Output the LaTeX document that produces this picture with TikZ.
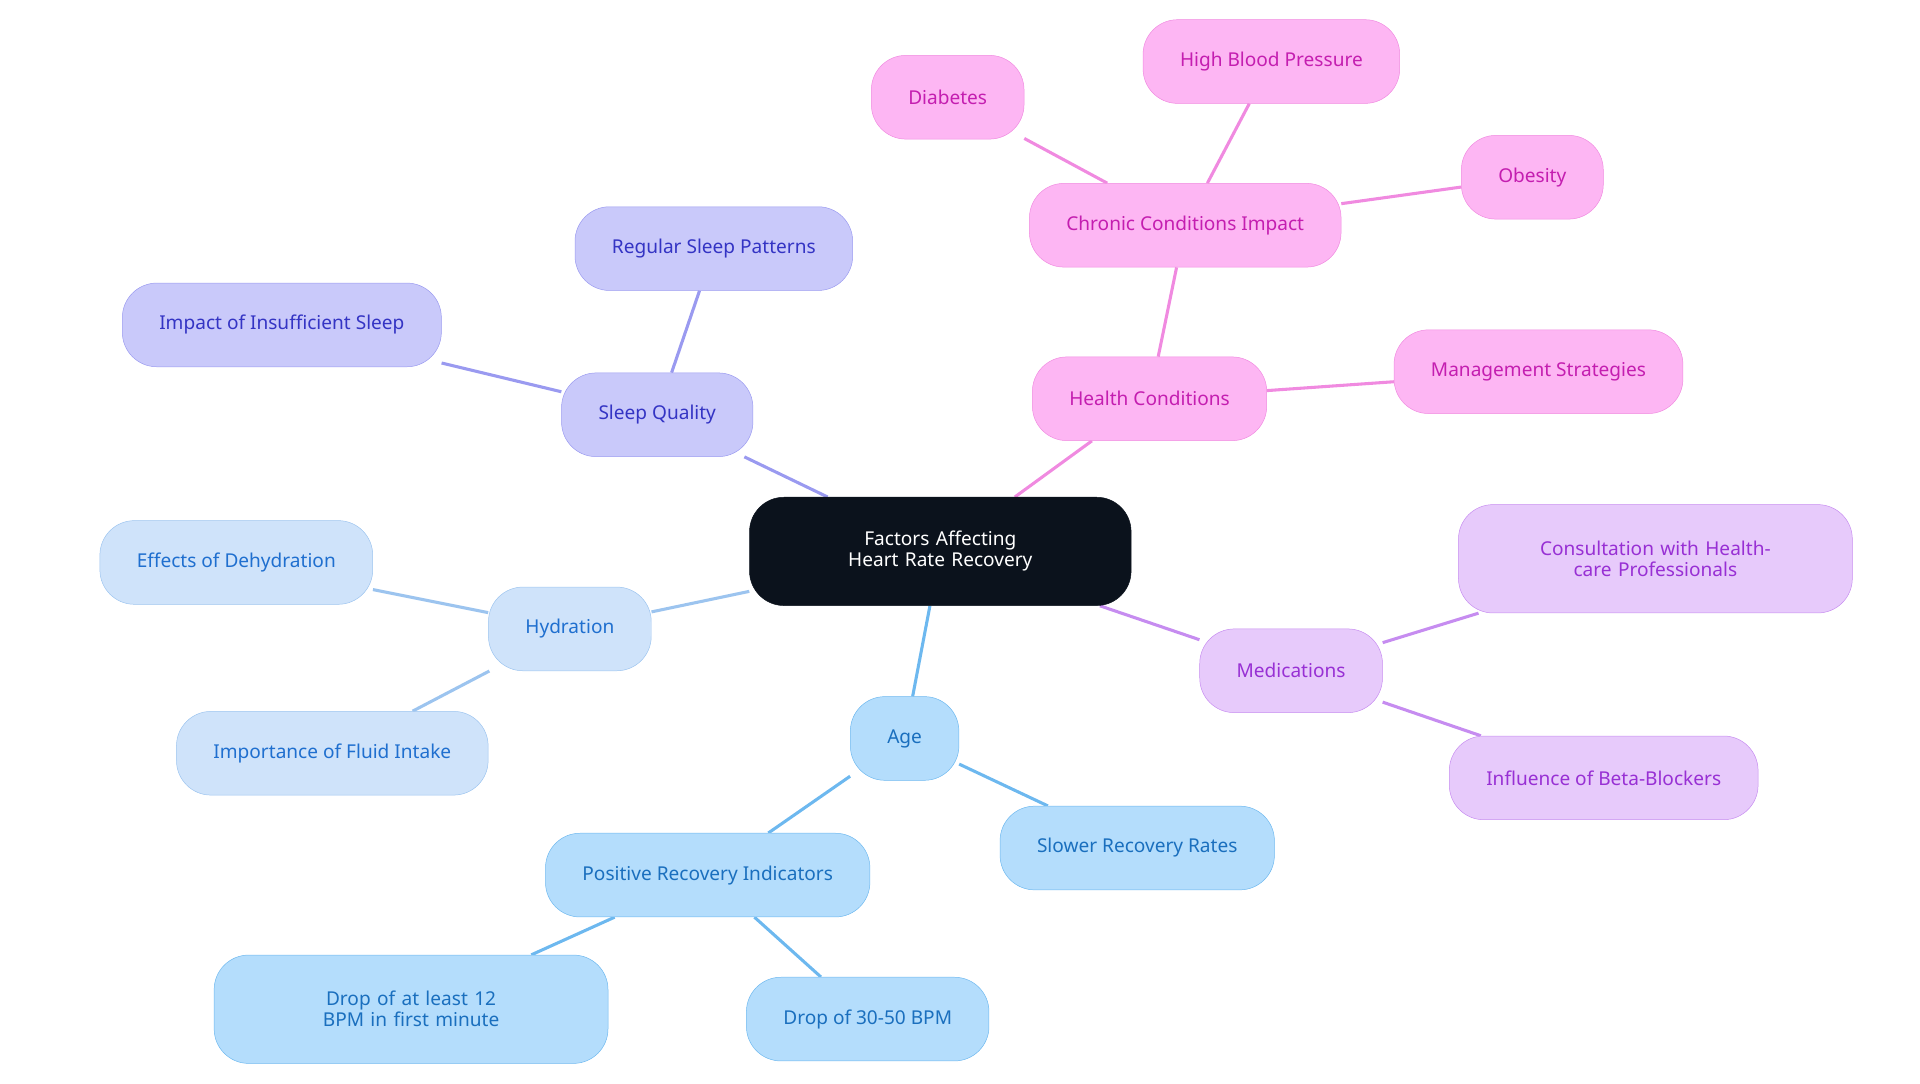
\documentclass[tikz,border=0pt]{standalone}
\usepackage{fontspec}
\setmainfont{Noto Sans}
\usetikzlibrary{backgrounds}

\definecolor{rootfill}{HTML}{0B121C}
\definecolor{sleepfill}{HTML}{C9C9FA}\definecolor{sleepline}{HTML}{9A9AF0}\definecolor{sleeptext}{HTML}{3434C4}
\definecolor{hydfill}{HTML}{CFE3FA}\definecolor{hydline}{HTML}{9CC4EF}\definecolor{hydtext}{HTML}{1F6FCF}
\definecolor{agefill}{HTML}{B4DDFC}\definecolor{ageline}{HTML}{6DB8EF}\definecolor{agetext}{HTML}{1A6FBE}
\definecolor{healthfill}{HTML}{FDB6F3}\definecolor{healthline}{HTML}{F08AE0}\definecolor{healthtext}{HTML}{C41EB0}
\definecolor{medfill}{HTML}{E7CAFB}\definecolor{medline}{HTML}{C68CF0}\definecolor{medtext}{HTML}{9830D4}

\tikzset{
  box/.style={draw, rounded corners=28pt, minimum height=68pt, inner xsep=30pt, align=center,
    font=\fontsize{15.5}{17}\selectfont},
  sleep/.style={box, fill=sleepfill, draw=sleepline, text=sleeptext},
  hyd/.style={box, fill=hydfill, draw=hydline, text=hydtext},
  age/.style={box, fill=agefill, draw=ageline, text=agetext},
  health/.style={box, fill=healthfill, draw=healthline, text=healthtext},
  med/.style={box, fill=medfill, draw=medline, text=medtext},
  link/.style={line width=2.5pt}
}

\begin{document}
\begin{tikzpicture}[x=1pt, y=-1pt]

	\useasboundingbox (0,0) rectangle (1560,880);

	% root
	\node[box, fill=rootfill, draw=rootfill, text=white, minimum width=308pt, minimum height=88pt, text width=250pt] (root) at (764,448) {Factors Affecting Heart Rate Recovery};

	% sleep
	\node[sleep] (sleepq) at (534,337) {Sleep Quality};
	\node[sleep] (regular) at (580,202) {Regular Sleep Patterns};
	\node[sleep] (insuff) at (229,264) {Impact of Insufficient Sleep};

	% hydration
	\node[hyd] (hydr) at (463,511) {Hydration};
	\node[hyd] (dehyd) at (192,457) {Effects of Dehydration};
	\node[hyd] (fluid) at (270,612) {Importance of Fluid Intake};

	% age
	\node[age] (agen) at (735,600) {Age};
	\node[age] (slower) at (924,689) {Slower Recovery Rates};
	\node[age] (positive) at (575,711) {Positive Recovery Indicators};
	\node[age, minimum width=314pt, minimum height=88pt, text width=260pt] (drop12) at (334,820) {Drop of at least 12 BPM in first minute};
	\node[age] (drop30) at (705,828) {Drop of 30-50 BPM};

	% health
	\node[health] (healthc) at (934,324) {Health Conditions};
	\node[health] (chronic) at (963,183) {Chronic Conditions Impact};
	\node[health] (diab) at (770,79) {Diabetes};
	\node[health] (hbp) at (1033,50) {High Blood Pressure};
	\node[health] (obes) at (1245,144) {Obesity};
	\node[health] (manage) at (1250,302) {Management Strategies};

	% medications
	\node[med] (medic) at (1049,545) {Medications};
	\node[med, minimum width=314pt, minimum height=88pt, text width=260pt] (consult) at (1345,454) {Consultation with Healthcare Professionals};
	\node[med] (beta) at (1303,632) {Influence of Beta-Blockers};

	\begin{scope}[on background layer]
	\draw[link, sleepline] (root) -- (sleepq) (sleepq) -- (regular) (sleepq) -- (insuff);
	\draw[link, hydline] (root) -- (hydr) (hydr) -- (dehyd) (hydr) -- (fluid);
	\draw[link, ageline] (root) -- (agen) (agen) -- (slower) (agen) -- (positive)
		(positive) -- (drop12) (positive) -- (drop30);
	\draw[link, healthline] (root) -- (healthc) (healthc) -- (chronic) (healthc) -- (manage)
		(chronic) -- (diab) (chronic) -- (hbp) (chronic) -- (obes);
	\draw[link, medline] (root) -- (medic) (medic) -- (consult) (medic) -- (beta);
	\end{scope}

\end{tikzpicture}
\end{document}
